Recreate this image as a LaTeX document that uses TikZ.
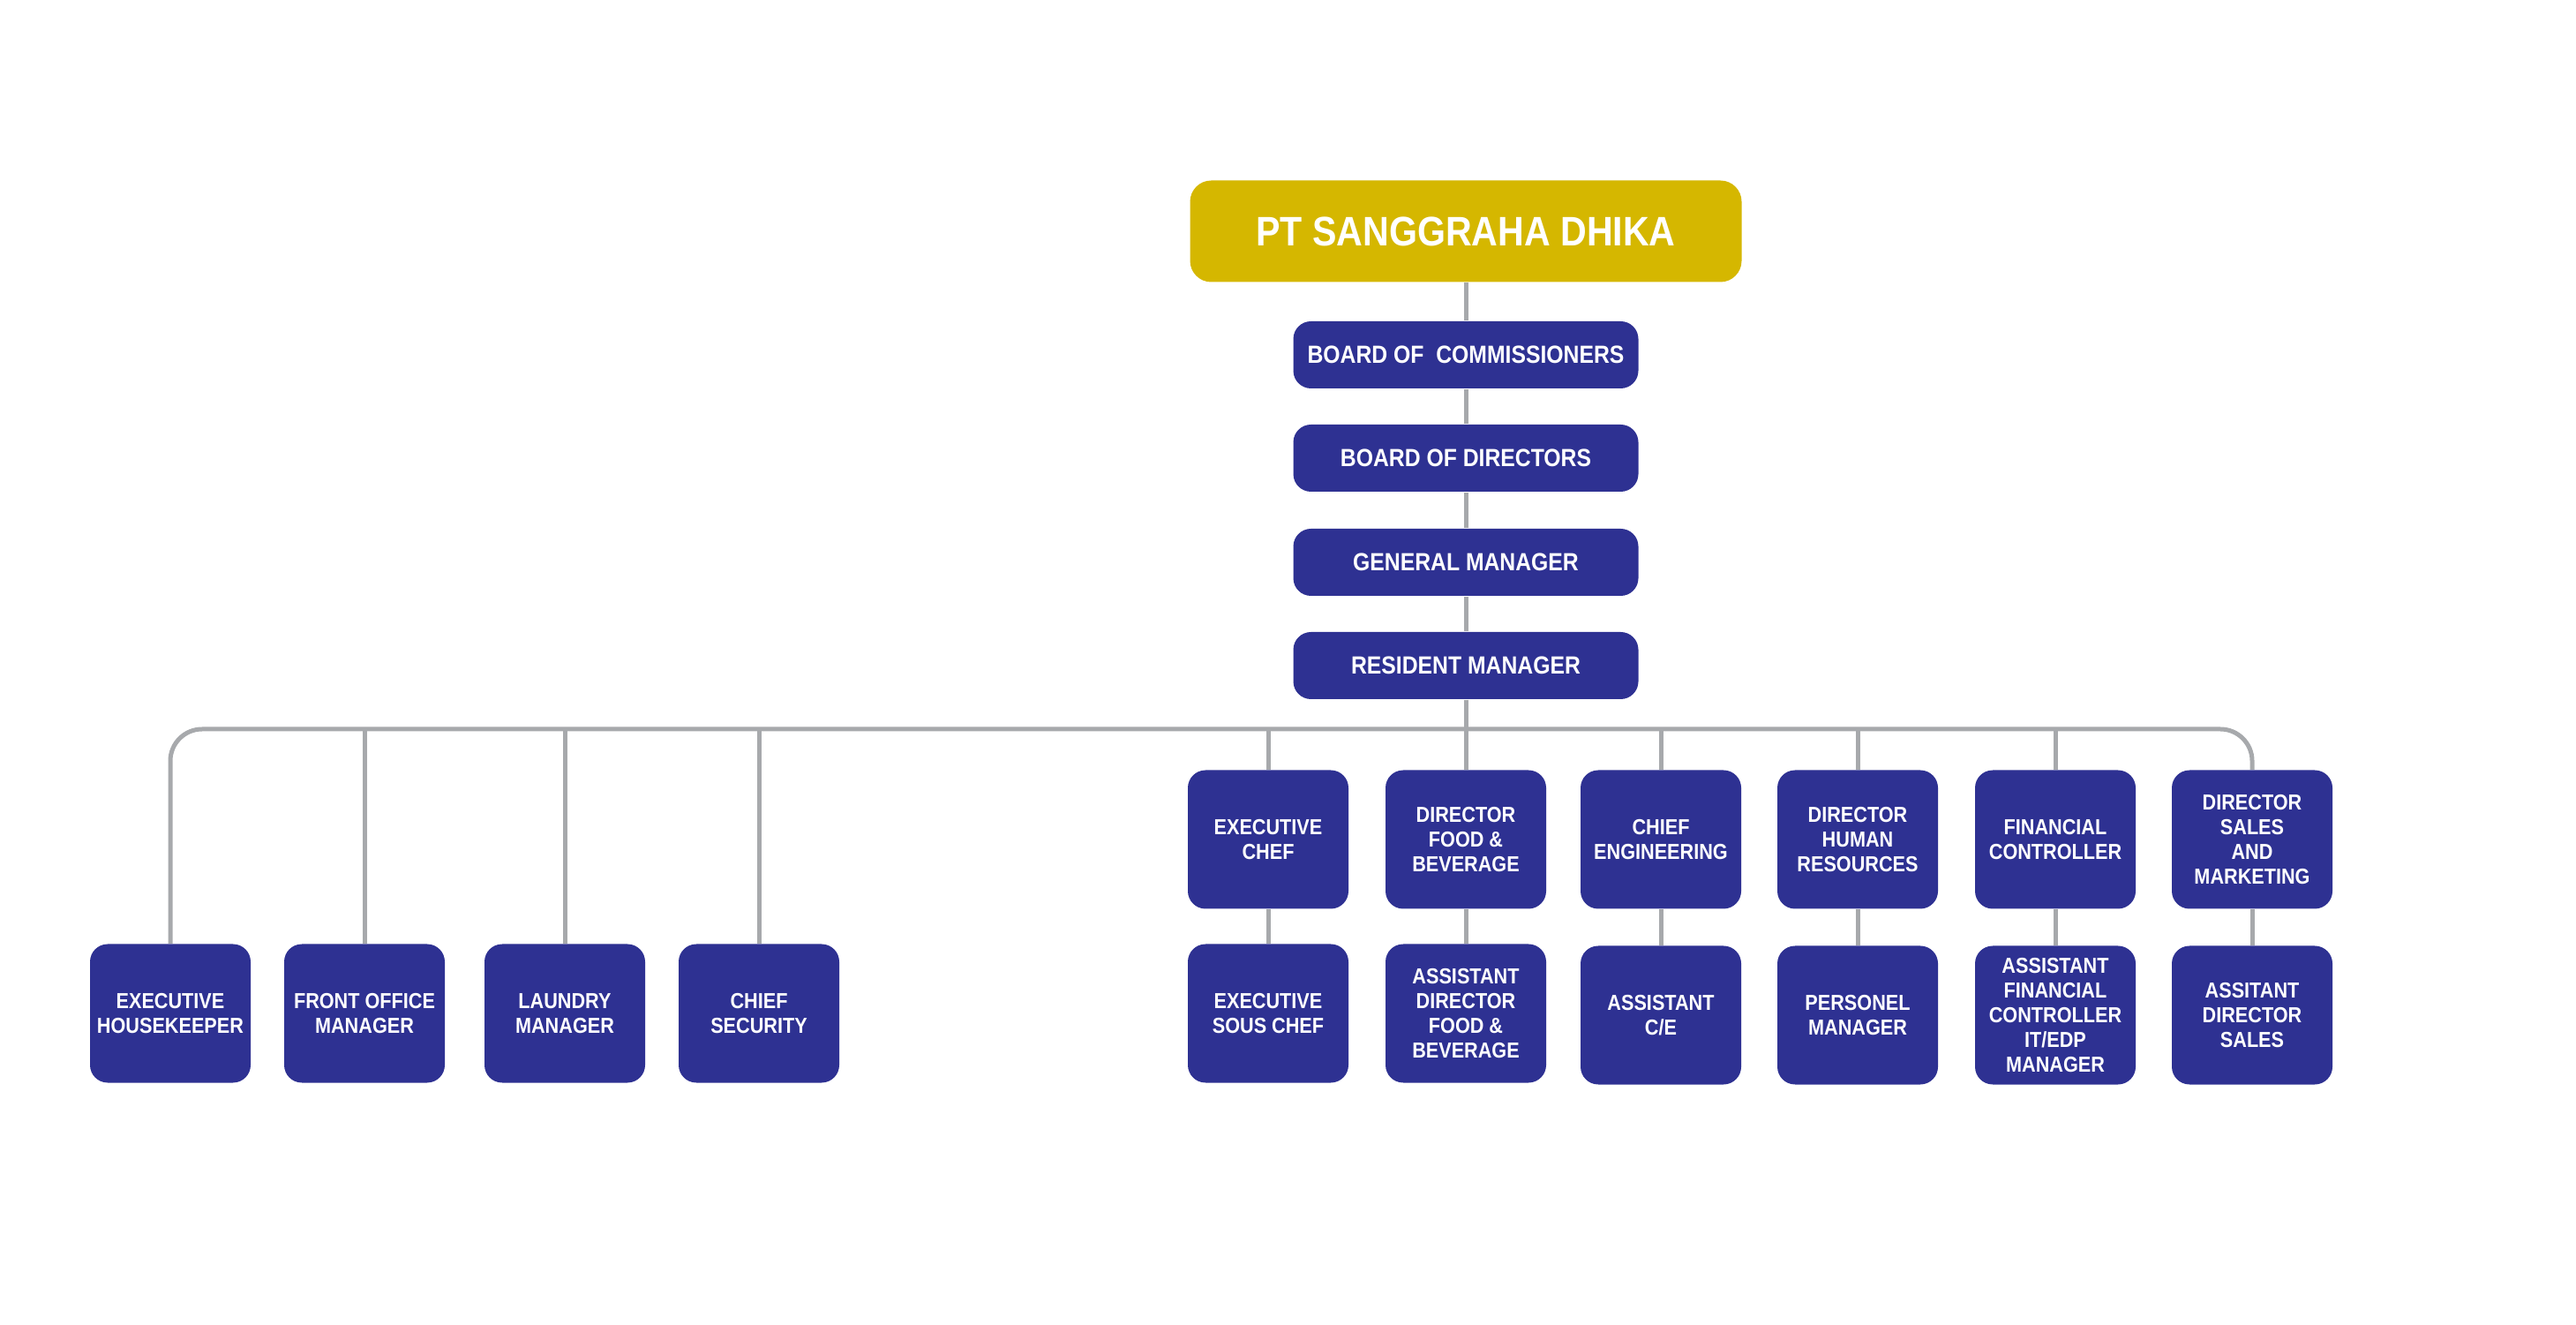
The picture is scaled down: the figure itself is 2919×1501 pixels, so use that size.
\documentclass[tikz,border=0pt]{standalone}
\usepackage{fontspec}
\setmainfont{Liberation Sans}[FakeStretch=0.88]
\usepackage{tikz}
\definecolor{jauneor}{RGB}{213,183,0}
\definecolor{marine}{RGB}{46,49,146}
\definecolor{gris}{RGB}{167,169,172}

\begin{document}
\begin{tikzpicture}[x=0.1mm, y=-0.1mm,
            trait/.style={draw=gris, line width=0.5mm}, trait/.default=,
            jaune/.style={fill=jauneor, rounded corners=2.4mm, minimum width=62.5mm, minimum height=11.5mm,
                text=white, font=\fontsize{13.3}{15}\selectfont\bfseries}, jaune/.default=,
            bleul/.style={fill=marine, rounded corners=2mm, minimum width=39.1mm, minimum height=7.6mm,
                text=white, font=\fontsize{8}{9.6}\selectfont\bfseries}, bleul/.default=,
            bleu/.style={fill=marine, rounded corners=2mm, minimum width=18.2mm, minimum height=15.7mm,
                inner sep=0pt, align=center, text=white, font=\fontsize{7}{8}\selectfont\bfseries}, bleu/.default=,
        ]
        \useasboundingbox (0,0) rectangle (2919,1501);
        % colonne du haut
        \node[jaune] (pt) at (1661,262) {PT SANGGRAHA DHIKA};
        \node[bleul] (boc) at (1661,402) {BOARD OF\ \ COMMISSIONERS};
        \node[bleul] (bod) at (1661,519) {BOARD OF DIRECTORS};
        \node[bleul] (gm) at (1661,637) {GENERAL MANAGER};
        \node[bleul] (rm) at (1661,754) {RESIDENT MANAGER};
        \coordinate (bus) at (1661,826);
        % groupe de gauche
        \node[bleu] (hk) at (193,1148) {EXECUTIVE\\HOUSEKEEPER};
        \node[bleu] (fom) at (413,1148) {FRONT OFFICE\\MANAGER};
        \node[bleu] (lm) at (640,1148) {LAUNDRY\\MANAGER};
        \node[bleu] (cs) at (860,1148) {CHIEF\\SECURITY};
        % groupe de droite, rang 1
        \node[bleu] (ec) at (1437,951) {EXECUTIVE\\CHEF};
        \node[bleu] (dfb) at (1661,951) {DIRECTOR\\FOOD \&\\BEVERAGE};
        \node[bleu] (ce) at (1882,951) {CHIEF\\ENGINEERING};
        \node[bleu] (dhr) at (2105,951) {DIRECTOR\\HUMAN\\RESOURCES};
        \node[bleu] (fc) at (2329,951) {FINANCIAL\\CONTROLLER};
        \node[bleu] (dsm) at (2552,951) {DIRECTOR\\SALES\\AND\\MARKETING};
        % rang 2
        \node[bleu] (esc) at (1437,1148) {EXECUTIVE\\SOUS CHEF};
        \node[bleu] (adfb) at (1661,1148) {ASSISTANT\\DIRECTOR\\FOOD \&\\BEVERAGE};
        \node[bleu] (ace) at (1882,1150) {ASSISTANT\\C/E};
        \node[bleu] (pm) at (2105,1150) {PERSONEL\\MANAGER};
        \node[bleu] (afc) at (2329,1150) {ASSISTANT\\FINANCIAL\\CONTROLLER\\IT/EDP\\MANAGER};
        \node[bleu] (ads) at (2552,1150) {ASSITANT\\DIRECTOR\\SALES};
        % traits
        \draw[trait] (pt) -- (boc) (boc) -- (bod) (bod) -- (gm) (gm) -- (rm) (rm) -- (bus);
        \draw[trait, rounded corners=3.6mm] (hk.north) |- (bus) -| (dsm.north);
        \draw[trait] (fom.north) -- (fom.north |- bus) (lm.north) -- (lm.north |- bus)
            (cs.north) -- (cs.north |- bus) (ec.north) -- (ec.north |- bus)
            (dfb.north) -- (dfb.north |- bus) (ce.north) -- (ce.north |- bus)
            (dhr.north) -- (dhr.north |- bus) (fc.north) -- (fc.north |- bus);
        \draw[trait] (ec) -- (esc) (dfb) -- (adfb) (ce) -- (ace)
            (dhr) -- (pm) (fc) -- (afc) (dsm) -- (ads);
    \end{tikzpicture}
\end{document}
